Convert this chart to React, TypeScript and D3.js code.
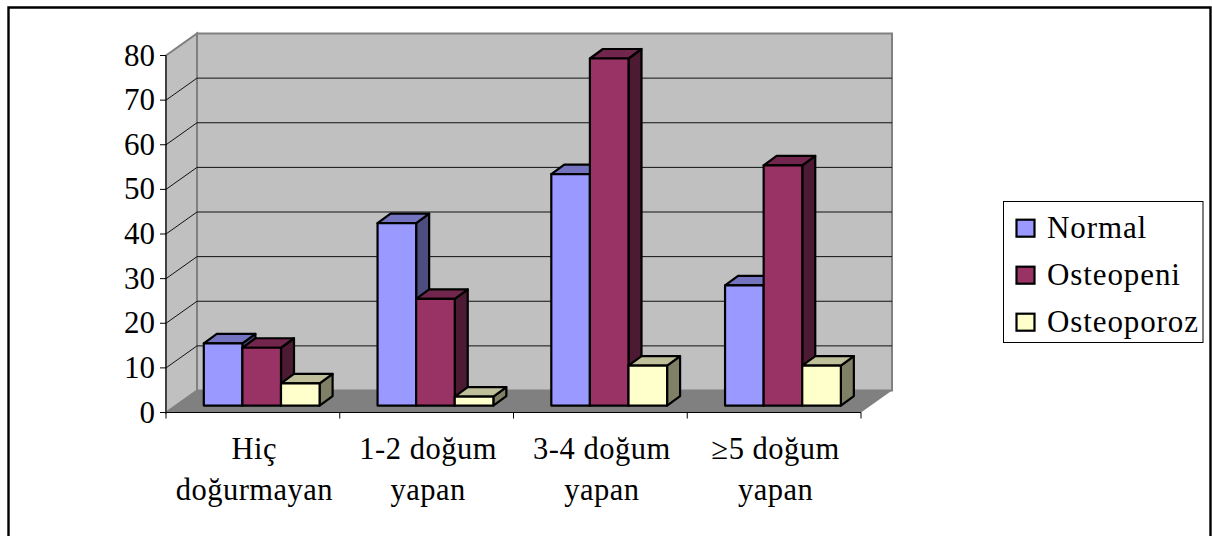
import React from "react";
import * as d3 from "d3";

const categories = [["Hiç", "doğurmayan"], ["1-2 doğum", "yapan"], ["3-4 doğum", "yapan"], ["≥5 doğum", "yapan"]];
const seriesNames = ["Normal", "Osteopeni", "Osteoporoz"];
const normal = [14, 41, 52, 27];
const osteopeni = [13, 24, 78, 54];
const osteoporoz = [5, 2, 9, 9];
const yTicks = [0, 10, 20, 30, 40, 50, 60, 70, 80];

const frontColors = ["#9999ff", "#993366", "#ffffcc"];
const topColors = ["#7373bf", "#73264d", "#bfbf99"];
const sideColors = ["#4d4d80", "#4d1a33", "#808066"];

const FONT = "'Liberation Serif', 'Times New Roman', serif";

const W = 1212;
const H = 536;
const axisLeft = 166;
const axisRight = 861;
const wallDx = 31;
const wallDy = -22;
const barDx = 13;
const barDy = -9.5;
const barBase = 405.6;

const yAxis = d3.scaleLinear().domain([0, 80]).range([412.5, 55.5]);
const barY = d3.scaleLinear().domain([0, 80]).range([barBase, barBase - 356]);
const xBand = d3.scaleBand<number>().domain([0, 1, 2, 3]).range([axisLeft, axisRight]);
const barW = 38.6;
const barStart = 37.8;

const poly = (pts: [number, number][]) => pts.map((p) => p.join(",")).join(" ");

function Bar({ x, y0, y1, s }: { x: number; y0: number; y1: number; s: number }) {
  const r = x + barW;
  return (
    <g stroke="#000" strokeWidth={2.2} strokeLinejoin="round">
      <polygon fill={sideColors[s]} points={poly([[r, y1], [r + barDx, y1 + barDy], [r + barDx, y0 + barDy], [r, y0]])} />
      <polygon fill={topColors[s]} points={poly([[x, y1], [x + barDx, y1 + barDy], [r + barDx, y1 + barDy], [r, y1]])} />
      <rect x={x} y={y1} width={barW} height={y0 - y1} fill={frontColors[s]} />
    </g>
  );
}

export default function App() {
  const values = [normal, osteopeni, osteoporoz];
  const y0 = yAxis(0);
  const yTop = yAxis(80);
  return (
    <svg width={W} height={H} style={{ position: "absolute", left: 0, top: 0, background: "#fff" }} fontFamily={FONT}>
      {/* outer chart frame, open at the bottom edge */}
      <path d={`M8.5 ${H} V7.5 H1210.5 V${H}`} fill="none" stroke="#000" strokeWidth={2.4} />

      {/* walls and floor */}
      <polygon fill="#c0c0c0" stroke="#808080" strokeWidth={2}
        points={poly([[axisLeft + wallDx, yTop + wallDy], [axisRight + wallDx, yTop + wallDy], [axisRight + wallDx, y0 + wallDy], [axisLeft + wallDx, y0 + wallDy]])} />
      <polygon fill="#c0c0c0" stroke="#808080" strokeWidth={2}
        points={poly([[axisLeft, yTop], [axisLeft + wallDx, yTop + wallDy], [axisLeft + wallDx, y0 + wallDy], [axisLeft, y0]])} />
      <polygon fill="#808080"
        points={poly([[axisLeft, y0], [axisLeft + wallDx, y0 + wallDy], [axisRight + wallDx, y0 + wallDy], [axisRight, y0]])} />

      {/* gridlines across both walls */}
      {yTicks.slice(1, -1).map((t) => (
        <polyline key={t} fill="none" stroke="#111" strokeWidth={1}
          points={poly([[axisLeft, yAxis(t)], [axisLeft + wallDx, yAxis(t) + wallDy], [axisRight + wallDx, yAxis(t) + wallDy]])} />
      ))}

      {/* bars, drawn back-to-front */}
      {categories.map((_, c) => (
        <g key={c}>
          {values.map((vals, s) => (
            <Bar key={s} s={s} x={(xBand(c) as number) + barStart + s * barW} y0={barY(0)} y1={barY(vals[c])} />
          ))}
        </g>
      ))}

      {/* axes */}
      <line x1={axisLeft} x2={axisLeft} y1={yTop} y2={y0} stroke="#000" strokeWidth={1} />
      <line x1={axisLeft} x2={axisRight} y1={y0} y2={y0} stroke="#000" strokeWidth={1} />
      {yTicks.map((t) => (
        <g key={t}>
          <line x1={axisLeft - 6} x2={axisLeft} y1={yAxis(t)} y2={yAxis(t)} stroke="#000" />
          <text x={axisLeft - 11} y={yAxis(t) + 10} textAnchor="end" fontSize={31}>{t}</text>
        </g>
      ))}
      {d3.range(5).map((i) => {
        const x = axisLeft + (i * (axisRight - axisLeft)) / 4;
        return <line key={i} x1={x} x2={x} y1={y0} y2={y0 + 6} stroke="#000" />;
      })}
      {categories.map((lines, c) => (
        <text key={c} textAnchor="middle" fontSize={30.5} letterSpacing={0.5}>
          {lines.map((l, i) => (
            <tspan key={i} x={(xBand(c) as number) + xBand.bandwidth() / 2 + 1.5} y={458.5 + i * 41}>{l}</tspan>
          ))}
        </text>
      ))}

      {/* legend */}
      <rect x={1003.5} y={201.5} width={199.5} height={141} fill="#fff" stroke="#000" strokeWidth={1} />
      {seriesNames.map((name, s) => {
        const cy = 228.2 + s * 47;
        return (
          <g key={name}>
            <rect x={1016.5} y={cy - 8.5} width={18} height={17} fill={frontColors[s]} stroke="#000" strokeWidth={2.2} />
            <text x={1047} y={cy + 9.7} fontSize={31} letterSpacing={0.9}>{name}</text>
          </g>
        );
      })}
    </svg>
  );
}
